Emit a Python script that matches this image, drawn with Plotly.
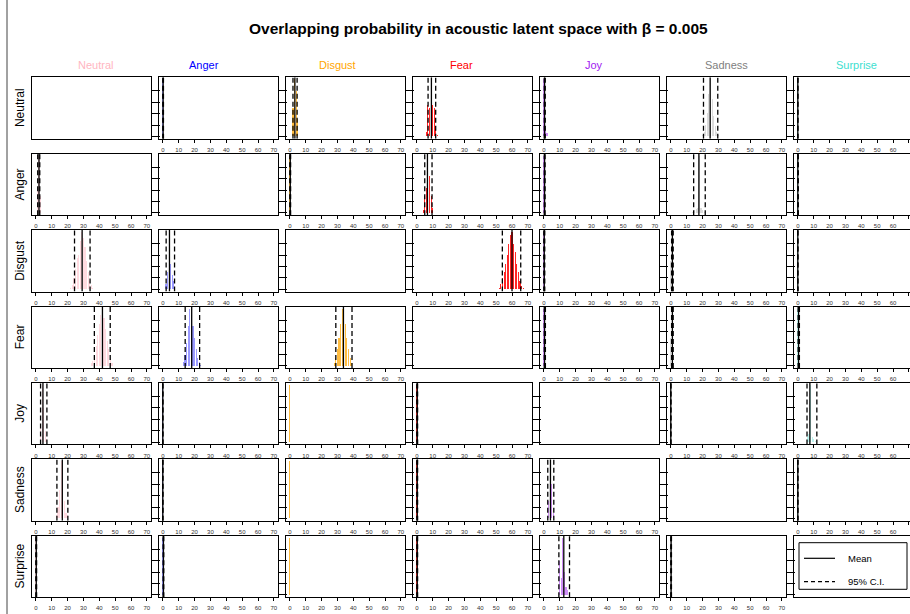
import plotly.graph_objects as go

# ---------------- data ----------------
EMOTIONS = ["Neutral", "Anger", "Disgust", "Fear", "Joy", "Sadness", "Surprise"]
BAR_COLORS = ["#FFB6C1", "#0000FF", "#FFA500", "#FF0000", "#A020F0", "#BEBEBE", "#40E0D0"]
HEADER_COLORS = ["#FFB6C1", "#0000FF", "#FFA500", "#FF0000", "#A020F0", "#808080", "#40E0D0"]
X_TICKS = [0, 10, 20, 30, 40, 50, 60, 70]
TITLE = "Overlapping probability in acoustic latent space with β = 0.005"
LEGEND_LABELS = ["Mean", "95% C.I."]

N = None
# mean of the overlap distribution (row = emotion, column = compared emotion)
MEAN = [
    [N, 0.2, 3.2, 9.2, 0.5, 24.8, 0.0],
    [2.0, N, 0.3, 6.7, 0.5, 17.7, 0.0],
    [29.2, 4.2, N, 60.0, 0.3, 1.0, 0.0],
    [42.0, 18.2, 33.8, N, 0.5, 1.0, 0.5],
    [4.5, 0.0, N, 0.3, N, 0.0, 7.6],
    [16.7, 0.0, N, 0.3, 4.2, N, 0.0],
    [0.3, 0.4, N, 0.3, 12.6, 0.2, N],
]
CI_LO = [
    [N, 0.0, 2.0, 7.1, 0.3, 20.6, 0.0],
    [1.2, N, 0.0, 5.0, 0.3, 14.4, 0.0],
    [24.4, 2.1, N, 53.9, 0.0, 0.5, 0.0],
    [36.9, 14.1, 29.0, N, 0.3, 0.5, 0.2],
    [3.0, 0.0, N, 0.0, N, 0.0, 5.8],
    [13.3, 0.0, N, 0.0, 2.5, N, 0.0],
    [0.0, 0.2, N, 0.0, 9.5, 0.0, N],
]
CI_HI = [
    [N, 0.4, 4.6, 11.9, 0.9, 29.6, 0.0],
    [2.5, N, 0.5, 9.6, 0.8, 21.7, 0.3],
    [34.2, 7.4, N, 65.5, 0.6, 1.5, 0.0],
    [46.9, 23.2, 39.2, N, 1.0, 1.5, 1.0],
    [7.0, 0.0, N, 0.5, N, 0.0, 12.0],
    [20.2, 0.0, N, 0.5, 6.3, N, 0.0],
    [0.5, 0.6, N, 0.5, 16.2, 0.4, N],
]
# histogram: first bin and relative bin heights (peak = 1)
HIST_START = [
    [N, 0, 2, 6, 0, 20, 0],
    [1, N, 0, 4, 0, 14, 0],
    [22, 2, N, 52, 0, 0, 0],
    [35, 13, 28, N, 0, 0, 0],
    [3, 0, 0, 0, N, 0, 6],
    [13, 0, 0, 0, 3, N, 0],
    [0, 0, 0, 0, 10, 0, N],
]
HIST_HEIGHTS = [
    [N, [1.0], [0.5, 1.0, 0.8, 0.3], [0.08, 0.55, 0.5, 1.0, 0.55, 0.5, 0.12, 0.03], [1.0, 0.15, 0.05],
     [0.03, 0.08, 0.2, 0.4, 0.75, 1.0, 0.65, 0.35, 0.18, 0.08, 0.03], [1.0]],
    [[0.4, 1.0, 0.3], N, [1.0], [0.05, 0.3, 0.45, 1.0, 0.65, 0.3, 0.1], [1.0],
     [0.03, 0.05, 0.08, 0.1, 1.0, 0.1, 0.05, 0.03], [1.0]],
    [[0.03, 0.08, 0.2, 0.35, 0.55, 0.6, 0.85, 1.0, 0.9, 0.75, 0.5, 0.3, 0.15, 0.08, 0.03],
     [0.1, 0.3, 1.0, 0.45, 0.25, 0.15], N,
     [0.03, 0.1, 0.2, 0.3, 0.45, 0.6, 0.8, 0.95, 1.0, 0.8, 0.65, 0.45, 0.3, 0.15, 0.06, 0.02],
     [1.0], [0.5, 1.0], [1.0]],
    [[0.05, 0.1, 0.2, 0.35, 0.55, 0.75, 0.9, 1.0, 0.85, 0.65, 0.45, 0.3, 0.15, 0.06],
     [0.08, 0.2, 0.4, 0.7, 1.0, 0.9, 0.7, 0.5, 0.3, 0.15, 0.08, 0.03],
     [0.05, 0.15, 0.3, 0.5, 0.75, 1.0, 0.95, 0.75, 0.5, 0.3, 0.15, 0.06], N,
     [1.0], [0.5, 1.0], [1.0]],
    [[0.3, 1.0, 0.6, 0.2, 0.05], [1.0], [1.0], [1.0], N, [1.0], [0.1, 0.15, 1.0, 0.1, 0.05, 0.03]],
    [[0.05, 0.2, 0.5, 1.0, 0.6, 0.3, 0.1, 0.05], [1.0], [1.0], [1.0], [0.3, 1.0, 0.6, 0.1], N, [1.0]],
    [[1.0], [1.0], [1.0], [1.0], [0.6, 0.3, 1.0, 0.4, 0.15, 0.1, 0.05], [1.0], N],
]

# ---------------- layout geometry (pixels) ----------------
W, H = 910, 614
BOX_W, BOX_H = 119.0, 61.5
COL_STEP, ROW_STEP = 127.0, 76.4
LEFT0, TOP0 = 32.0, 77.3
X_MIN, UNITS_PER_BOX = -2.4, 75.0
PX_PER_UNIT = BOX_W / UNITS_PER_BOX
Y_RANGE = [-0.04, 1.04]
HEADER_X = [95, 204, 337, 461, 594, 726, 856]
BAR_ALPHA = [0.5, 0.4, 0.75, 0.85, 0.5, 0.55, 0.35]
SANS = "Liberation Sans, Arial, sans-serif"


def rgba(hex_color, a):
    h = hex_color.lstrip("#")
    return f"rgba({int(h[0:2],16)},{int(h[2:4],16)},{int(h[4:6],16)},{a})"


fig = go.Figure()
layout = {}
n = len(EMOTIONS)
for r in range(n):
    for c in range(n):
        idx = r * n + c + 1
        sfx = "" if idx == 1 else str(idx)
        xname, yname = "x" + sfx, "y" + sfx
        left = LEFT0 + COL_STEP * c
        right = min(left + BOX_W, W)
        top = TOP0 + ROW_STEP * r
        bottom = top + BOX_H
        diag = (r == c)
        last_col = (c == n - 1)
        x_hi = X_MIN + (right - left) / PX_PER_UNIT
        layout["xaxis" + sfx] = dict(
            domain=[left / W, right / W], anchor=yname, range=[X_MIN, x_hi],
            showline=True, mirror=True, linecolor="black", linewidth=1,
            showgrid=False, zeroline=False, fixedrange=True,
            tickmode="array", tickvals=X_TICKS, ticktext=[str(t) for t in X_TICKS],
            ticks="" if diag else "outside", ticklen=3, tickwidth=1, tickcolor="black",
            showticklabels=not diag, ticklabelstandoff=2,
            tickfont=dict(size=6, color="#333", family=SANS),
        )
        layout["yaxis" + sfx] = dict(
            domain=[1 - bottom / H, 1 - top / H], anchor=xname, range=Y_RANGE,
            side="left" if last_col else "right",
            showline=True, mirror=not last_col, linecolor="black", linewidth=1,
            showgrid=False, zeroline=False, fixedrange=True,
            tickmode="array", tickvals=[0, 0.2, 0.4, 0.6, 0.8],
            ticks="" if last_col else "outside", ticklen=8, tickwidth=1.2, tickcolor="black",
            showticklabels=False,
        )
        if diag:
            # empty panel: an invisible trace so that the axes box is drawn
            fig.add_trace(go.Scatter(x=[None], y=[None], mode="markers",
                                     xaxis=xname, yaxis=yname, showlegend=False,
                                     hoverinfo="skip"))
            continue
        heights = HIST_HEIGHTS[r][c]
        start = HIST_START[r][c]
        if heights:
            fig.add_trace(go.Bar(
                x=[start + i for i in range(len(heights))], y=heights, width=0.7,
                marker=dict(color=rgba(BAR_COLORS[c], BAR_ALPHA[c]), line=dict(width=0)),
                xaxis=xname, yaxis=yname, showlegend=False, hoverinfo="skip"))
        if MEAN[r][c] is not None:
            for v in (CI_LO[r][c], CI_HI[r][c]):
                fig.add_trace(go.Scatter(
                    x=[v, v], y=Y_RANGE, mode="lines",
                    line=dict(color="black", width=1.3, dash="5px,3px"),
                    xaxis=xname, yaxis=yname, showlegend=False, hoverinfo="skip"))
            m = MEAN[r][c]
            fig.add_trace(go.Scatter(
                x=[m, m], y=Y_RANGE, mode="lines",
                line=dict(color="black", width=1.3),
                xaxis=xname, yaxis=yname, showlegend=False, hoverinfo="skip"))

annotations = [dict(
    text=TITLE, x=478 / W, y=1 - 28 / H, xref="paper", yref="paper",
    showarrow=False, xanchor="center", yanchor="middle",
    font=dict(size=15.5, family=SANS, color="black", weight="bold"))]
for c, name in enumerate(EMOTIONS):
    annotations.append(dict(
        text=name, x=HEADER_X[c] / W, y=1 - 65 / H, xref="paper", yref="paper",
        showarrow=False, xanchor="center", yanchor="middle",
        font=dict(size=11, family=SANS, color=HEADER_COLORS[c])))
for r, name in enumerate(EMOTIONS):
    yc = TOP0 + ROW_STEP * r + BOX_H / 2
    annotations.append(dict(
        text=name, x=20 / W, y=1 - yc / H, xref="paper", yref="paper",
        showarrow=False, xanchor="center", yanchor="middle", textangle=-90,
        font=dict(size=12, family=SANS, color="black")))

# legend drawn inside the bottom-right panel
lg_top = TOP0 + ROW_STEP * 6 + 7
lg_bot = lg_top + 46.6
lg_left, lg_right = 799, 907
shapes = [
    dict(type="rect", xref="paper", yref="paper", x0=lg_left / W, x1=lg_right / W,
         y0=1 - lg_bot / H, y1=1 - lg_top / H, line=dict(color="black", width=1)),
    dict(type="line", xref="paper", yref="paper", x0=7 / W, x1=7 / W, y0=0, y1=1,
         line=dict(color="#444", width=1)),
]
for i, lab in enumerate(LEGEND_LABELS):
    yy = lg_top + 15.6 + 23.4 * i
    shapes.append(dict(type="line", xref="paper", yref="paper", x0=804 / W, x1=835 / W,
                       y0=1 - yy / H, y1=1 - yy / H,
                       line=dict(color="black", width=1.2, dash="solid" if i == 0 else "4px,3px")))
    annotations.append(dict(
        text=lab, x=846 / W, y=1 - yy / H, xref="paper", yref="paper",
        showarrow=False, xanchor="left", yanchor="middle",
        font=dict(size=9.5, family=SANS, color="black")))

fig.update_layout(
    width=W, height=H, margin=dict(l=0, r=0, t=0, b=0),
    paper_bgcolor="white", plot_bgcolor="white",
    showlegend=False, bargap=0, barmode="overlay",
    annotations=annotations, shapes=shapes, **layout)

# remove the page's default body margin so the figure sits at the window's corner
fig.write_html("out.html", config={"displayModeBar": False},
               post_script="document.body.style.margin='0px';document.body.style.overflow='hidden';")
